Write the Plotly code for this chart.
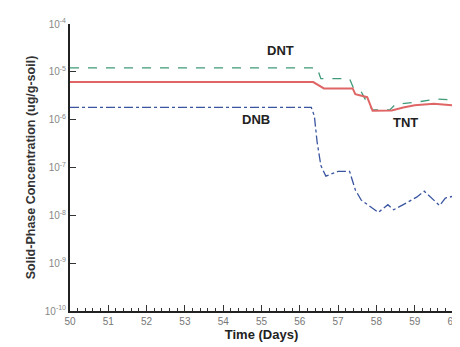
import plotly.graph_objects as go

# Time (days) and concentrations (ug/g-soil)
dnt_t = [50, 56.45, 56.55, 57.3, 57.4, 57.6, 57.75, 57.9, 58.35, 58.5, 59.0, 59.3, 59.6, 60]
dnt_v = [1.21e-5, 1.21e-5, 7.2e-6, 7.2e-6, 4.6e-6, 3.9e-6, 2.3e-6, 1.6e-6, 1.6e-6, 2.1e-6, 2.3e-6, 2.5e-6, 2.7e-6, 2.6e-6]

tnt_t = [50, 56.35, 56.63, 57.38, 57.45, 57.76, 57.9, 58.4, 58.7, 59.0, 59.5, 60]
tnt_v = [6.1e-6, 6.1e-6, 4.5e-6, 4.5e-6, 3.4e-6, 2.95e-6, 1.53e-6, 1.55e-6, 1.8e-6, 2.0e-6, 2.15e-6, 2.0e-6]

dnb_t = [50, 56.3, 56.38, 56.45, 56.55, 56.68, 57.0, 57.3, 57.45, 57.6, 57.8, 58.05, 58.3, 58.45, 58.8, 59.05, 59.25, 59.5, 59.65, 59.8, 60]
dnb_v = [1.8e-6, 1.8e-6, 1.2e-6, 3.5e-7, 1.1e-7, 6.6e-8, 8.3e-8, 8.3e-8, 3.4e-8, 2.1e-8, 1.6e-8, 1.15e-8, 1.67e-8, 1.31e-8, 1.85e-8, 2.4e-8, 3.2e-8, 2.1e-8, 1.6e-8, 2.3e-8, 2.5e-8]

y_tickvals = [1e-4, 1e-5, 1e-6, 1e-7, 1e-8, 1e-9, 1e-10]
y_ticktext = ["10<sup>-4</sup>", "10<sup>-5</sup>", "10<sup>-6</sup>", "10<sup>-7</sup>",
              "10<sup>-8</sup>", "10<sup>-9</sup>", "10<sup>-10</sup>"]
x_tickvals = list(range(50, 61))

fig = go.Figure()
fig.add_trace(go.Scatter(x=dnt_t, y=dnt_v, mode="lines",
                         line=dict(color="#3f9a78", width=1.3, dash="dash"), name="DNT"))
fig.add_trace(go.Scatter(x=tnt_t, y=tnt_v, mode="lines",
                         line=dict(color="#e06666", width=2), name="TNT"))
fig.add_trace(go.Scatter(x=dnb_t, y=dnb_v, mode="lines",
                         line=dict(color="#3a55a0", width=1.3, dash="dashdot"), name="DNB"))

lab = dict(size=13, color="#222", family="Arial, Liberation Sans, sans-serif")
fig.add_annotation(x=55.5, y=-4.55, text="<b>DNT</b>", showarrow=False, font=lab)
fig.add_annotation(x=54.85, y=-6.0, text="<b>DNB</b>", showarrow=False, font=lab)
fig.add_annotation(x=58.75, y=-6.05, text="<b>TNT</b>", showarrow=False, font=lab)

fig.update_layout(
    width=460, height=347,
    margin=dict(l=62, r=9, t=9, b=44),
    paper_bgcolor="white", plot_bgcolor="white",
    showlegend=False,
    font=dict(family="Arial, Liberation Sans, sans-serif", color="#444", size=10),
    xaxis=dict(range=[50, 60], tickvals=x_tickvals, ticks="inside", ticklen=6,
               tickwidth=1, tickcolor="#333", showgrid=False, zeroline=False,
               showline=True, linecolor="#222", linewidth=2,
               minor=dict(dtick=0.2, ticks="inside", ticklen=3, tickcolor="#333", showgrid=False),
               tickfont=dict(size=10, color="#777"),
               title=dict(text="<b>Time (Days)</b>", font=dict(size=13, color="#222"), standoff=2)),
    yaxis=dict(type="log", range=[-10, -4], tickvals=y_tickvals, ticktext=y_ticktext,
               ticks="inside", ticklen=6, tickwidth=1, tickcolor="#333",
               showgrid=False, zeroline=False, showline=True, linecolor="#222", linewidth=2,
               tickfont=dict(size=10, color="#888"),
               title=dict(text="<b>Solid-Phase Concentration (ug/g-soil)</b>",
                          font=dict(size=12.5, color="#333"), standoff=6)),
)

fig.write_html("out.html")
